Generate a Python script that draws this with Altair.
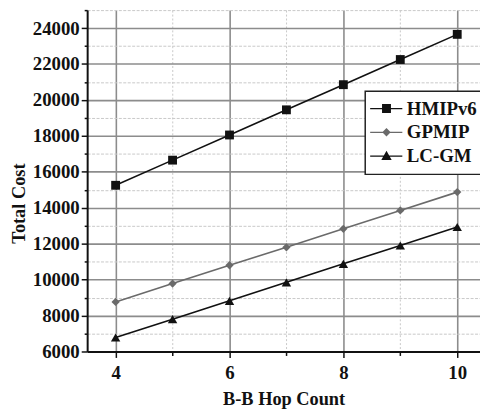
import altair as alt
import pandas as pd

hops = [4, 5, 6, 7, 8, 9, 10]
hmipv6 = [15250, 16650, 18050, 19450, 20850, 22250, 23650]
gpmip = [8760, 9780, 10800, 11800, 12830, 13850, 14870]
lcgm = [6780, 7800, 8820, 9850, 10880, 11900, 12930]

series_names = ["HMIPv6", "GPMIP", "LC-GM"]
series_colors = ["#111111", "#6a6a6a", "#111111"]
plot_shapes = ["square", "diamond", "triangle-up"]
plot_sizes = [80, 70, 90]
legend_shapes = [
    "M-3.3,-0.13H3.2V0.13H-3.3Z M-0.9,-0.9H0.9V0.9H-0.9Z",
    "M-3.3,-0.13H3.2V0.13H-3.3Z M0,-0.85L0.85,0L0,0.85L-0.85,0Z",
    "M-3.3,-0.13H3.2V0.13H-3.3Z M0,-1.05L1.05,0.8H-1.05Z",
]

x_tick_values = [4, 5, 6, 7, 8, 9, 10]
y_tick_values = [6000, 7000, 8000, 9000, 10000, 11000, 12000, 13000, 14000, 15000,
                 16000, 17000, 18000, 19000, 20000, 21000, 22000, 23000, 24000, 25000]

rows = []
for name, vals in zip(series_names, [hmipv6, gpmip, lcgm]):
    for h, v in zip(hops, vals):
        rows.append({"hop": h, "cost": v, "series": name})
df = pd.DataFrame(rows)

FONT = "Liberation Serif"

x_enc = alt.X(
    "hop:Q",
    scale=alt.Scale(domain=[3.5, 10.4], nice=False, zero=False),
    axis=alt.Axis(
        title="B-B Hop Count",
        values=x_tick_values,
        labelExpr="datum.value % 2 === 0 ? datum.label : ''",
        gridDash={"condition": {"test": "datum.value % 2 === 1", "value": [2, 2]}, "value": []},
        gridColor={"condition": {"test": "datum.value % 2 === 1", "value": "#c8c8c8"}, "value": "#8c8c8c"},
        gridWidth={"condition": {"test": "datum.value % 2 === 1", "value": 1}, "value": 1.6},
        tickSize={"condition": {"test": "datum.value % 2 === 1", "value": 4}, "value": 6},
        labelPadding=6,
        titlePadding=8,
    ),
)
y_enc = alt.Y(
    "cost:Q",
    scale=alt.Scale(domain=[6000, 25000], nice=False, zero=False),
    axis=alt.Axis(
        title="Total Cost",
        values=y_tick_values,
        labelExpr="datum.value % 2000 === 0 ? datum.label : ''",
        format="d",
        gridDash={"condition": {"test": "datum.value % 2000 !== 0", "value": [3, 1.5]}, "value": []},
        gridColor={"condition": {"test": "datum.value % 2000 !== 0", "value": "#c8c8c8"}, "value": "#8c8c8c"},
        gridWidth={"condition": {"test": "datum.value % 2000 !== 0", "value": 1}, "value": 1.6},
        tickSize={"condition": {"test": "datum.value % 2000 !== 0", "value": 3}, "value": 6},
        labelPadding=2,
        titlePadding=4,
        titleY=195,
    ),
)

leg = dict(title=" ", titleOrient="left", titlePadding=4, titleFontSize=18,
           symbolOpacity=1, symbolSize=100)
legend_layer = alt.Chart(df).mark_point(
    filled=True, size=100, opacity=0
).encode(
    x=x_enc, y=y_enc,
    color=alt.Color("series:N", scale=alt.Scale(domain=series_names, range=series_colors),
                    legend=alt.Legend(**leg)),
    shape=alt.Shape("series:N", scale=alt.Scale(domain=series_names, range=legend_shapes),
                    legend=alt.Legend(**leg)),
)

layers = [legend_layer]
for name, col, shp, sz in zip(series_names, series_colors, plot_shapes, plot_sizes):
    base = alt.Chart(df).transform_filter(alt.datum.series == name)
    layers.append(base.mark_line(strokeWidth=1.6, color=col).encode(x=x_enc, y=y_enc))
    layers.append(
        base.mark_point(filled=True, size=sz, shape=shp, color=col, opacity=1).encode(x=x_enc, y=y_enc)
    )

chart = alt.layer(*layers).properties(
    width=397,
    height=345,
    autosize=alt.AutoSizeParams(type="none"),
    padding={"left": 80, "top": 0, "right": 0, "bottom": 58},
).configure_view(
    stroke=None,
).configure_axis(
    labelFont=FONT, labelFontSize=19, labelFontWeight="bold", labelColor="#111111",
    titleFont=FONT, titleFontSize=18.5, titleFontWeight="bold", titleColor="#111111",
    domainColor="#111111", domainWidth=2, tickColor="#111111", tickWidth=1.5,
).configure_legend(
    orient="none", legendX=281, legendY=82,
    labelFont=FONT, labelFontSize=19, labelFontWeight="bold", labelColor="#111111",
    labelOffset=11, rowPadding=4, padding=8,
    strokeColor="#222222", strokeWidth=1.5, fillColor="white",
)

chart.save("out.html", embed_options={"renderer": "svg", "actions": False})
